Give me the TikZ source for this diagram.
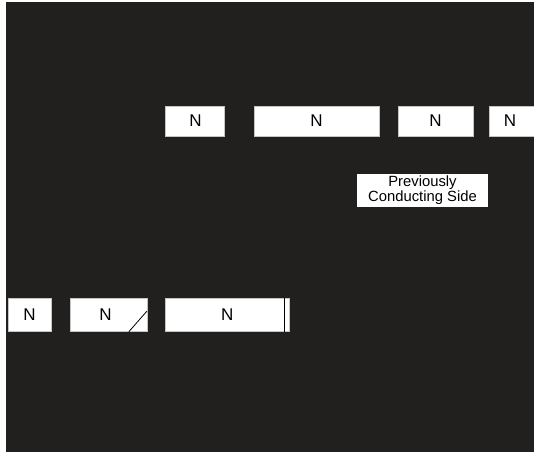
\documentclass[tikz,border=0pt]{standalone}
\usepackage{fontspec}
\setmainfont{Liberation Sans}
\usetikzlibrary{calc}
\definecolor{bgdark}{HTML}{21201E}
\definecolor{edge}{HTML}{C4C4C4}
\tikzset{
  nbox/.style={draw=edge, fill=white, line width=0.6pt, inner sep=0pt,
    minimum height=#1, font=\fontsize{17}{18}\selectfont},
  nbox/.default=30pt,
  lbox/.style={draw=none, fill=white, inner sep=0pt, align=center,
    font=\fontsize{14.8}{13.7}\selectfont},
  mark line/.style={draw=black, line width=0.8pt}
}
\begin{document}
\begin{tikzpicture}[x=1pt,y=1pt]
\useasboundingbox (0,0) rectangle (534,452);
\fill[white] (0,0) rectangle (534,452);
\fill[bgdark] (6,0) rectangle (534,450);
\begin{scope}
\clip (0,0) rectangle (534,452);
% top row
\node[nbox, minimum width=59pt] (t1) at (194.5,331) {\hspace*{2pt}N};
\node[nbox, minimum width=125pt] (t2) at (316.5,331) {N};
\node[nbox, minimum width=75pt] (t3) at (435.5,331) {N};
\node[nbox, minimum width=51pt] (t4) at (514.5,331) {};
\node[font=\fontsize{17}{18}\selectfont, inner sep=0pt] (t4l) at (510,331) {N};
% label
\node[lbox, minimum width=131pt, minimum height=33pt] (prev) at (422.5,261.5) {Previously\\Conducting Side};
% bottom row
\node[nbox=33.5pt, minimum width=43pt] (b1) at (29.5,137) {N};
\node[nbox=33.5pt, minimum width=77pt] (b2) at (108.5,137) {\hspace*{-6pt}N};
\node[nbox=33.5pt, minimum width=123.5pt] (b3) at (227.25,137) {N};
\end{scope}
% diagonal in b2
\coordinate (d1) at ($(b2.south east)+(-18.5,0.3)$);
\coordinate (d2) at ($(b2.south east)+(-0.3,21)$);
\draw[mark line] (d1) -- (d2);
% vertical bar in b3
\coordinate (v1) at ($(b3.south east)+(-5,0.3)$);
\coordinate (v2) at ($(b3.north east)+(-5,-0.3)$);
\draw[mark line, line width=1.2pt] (v1) -- (v2);
\end{tikzpicture}
\end{document}
